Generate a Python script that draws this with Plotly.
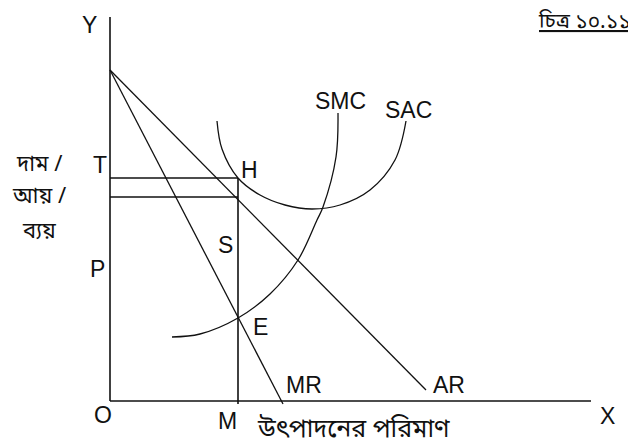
import plotly.graph_objects as go

# Chart coordinates: origin O at the corner of the axes, y upwards
axis_y_x = [0, 0]
axis_y_y = [0, 384]
axis_x_x = [0, 481]
axis_x_y = [0, 0]

ar_x = [0, 316]
ar_y = [331, 11]
mr_x = [0, 173]
mr_y = [331, -3]

m_x = [128, 128]
m_y = [-3, 223]
t_x = [0, 128]
t_y = [223, 223]
s_x = [0, 128]
s_y = [204, 204]

smc_x = [62, 90, 128, 160, 188, 207, 213, 226, 228]
smc_y = [64, 67, 83, 107, 141, 181, 194, 244, 288]

sac_x = [107, 112, 128, 150, 175, 202, 230, 260, 285, 296]
sac_y = [280, 252, 223, 206, 196, 192, 196, 211, 241, 280]

LATIN = 'Liberation Sans, Arial, sans-serif'
BENGALI = 'Noto Sans Bengali, Lohit Bengali, Noto Sans, sans-serif'

fig = go.Figure()


def add_line(x, y, shape='linear', width=1.3):
    fig.add_trace(go.Scatter(x=x, y=y, mode='lines', line_shape=shape,
                             line=dict(color='#111111', width=width),
                             hoverinfo='skip', showlegend=False))


add_line(axis_y_x, axis_y_y, width=1.6)
add_line(axis_x_x, axis_x_y, width=1.6)
add_line(ar_x, ar_y)
add_line(mr_x, mr_y)
add_line(m_x, m_y, width=1.6)
add_line(t_x, t_y)
add_line(s_x, s_y)
add_line(smc_x, smc_y, shape='spline')
add_line(sac_x, sac_y, shape='spline')

# point / curve labels
labels = [
    ('Y', -21, 376), ('T', -10, 236), ('H', 139, 231), ('S', 115, 156),
    ('P', -13, 132), ('E', 150, 74), ('MR', 194, 16), ('AR', 339, 16),
    ('O', -7, -14), ('M', 117, -20), ('X', 497, -15),
    ('SMC', 230, 300), ('SAC', 298, 291),
]
for text, x, y in labels:
    fig.add_annotation(x=x, y=y, text=text, showarrow=False,
                       font=dict(family=LATIN, size=23, color='#111111'))

for text, y in [('দাম /', 236), ('আয় /', 204), ('ব্যয়', 169)]:
    fig.add_annotation(x=-71, y=y, text=text, showarrow=False,
                       font=dict(family=BENGALI, size=22, color='#111111'))

fig.add_annotation(x=243, y=-29, text='উৎপাদনের পরিমাণ', showarrow=False,
                   font=dict(family=BENGALI, size=25, color='#111111'))

fig.add_annotation(x=522, y=1, yref='paper', yanchor='top',
                   text='<u>চিত্র ১০.১১</u>', showarrow=False,
                   xanchor='right', borderpad=0,
                   font=dict(family=BENGALI, size=21, color='#111111'))

# the page body keeps an 8px margin, so the figure is a little smaller
fig.update_layout(
    width=628, height=438,
    margin=dict(l=0, r=0, t=0, b=0),
    paper_bgcolor='white', plot_bgcolor='white',
    xaxis=dict(range=[-102, 526], visible=False, fixedrange=True),
    yaxis=dict(range=[-45, 393], visible=False, fixedrange=True),
    showlegend=False,
)

fig.write_html("out.html")
